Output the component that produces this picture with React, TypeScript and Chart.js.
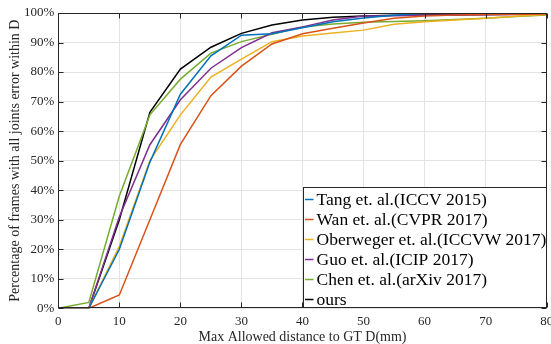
import React, { useEffect, useRef } from 'react';
import { Chart, registerables } from 'chart.js';

Chart.register(...registerables);

const distances = [0, 5, 10, 15, 20, 25, 30, 35, 40, 45, 50, 55, 60, 65, 70, 75, 80];
const tang = [0, 0, 20, 49.5, 72.5, 85.5, 92.5, 93, 95, 97, 98.3, 99.2, 100, 100, 100, 100, 100];
const wan = [0, 0, 4.5, 30, 55.5, 72, 82, 89.5, 93, 94.8, 96.6, 98.2, 99, 99.3, 99.5, 99.6, 99.7];
const oberweger = [0, 0, 21, 50, 65.5, 78.3, 84.4, 90.3, 92.2, 93.2, 94.2, 96.2, 97, 97.6, 98.2, 98.9, 99.5];
const guo = [0, 0, 31, 55.4, 70.6, 81.3, 88.3, 93.3, 95.3, 97.6, 99, 99.1, 99.2, 99.3, 99.4, 99.5, 99.6];
const chen = [0, 2, 38, 65.5, 77.6, 86.4, 90.3, 92.8, 95.3, 96.3, 96.9, 97.1, 97.4, 97.8, 98.2, 98.8, 99.3];
const ours = [0, 0, 30, 66.4, 81, 88.4, 93.1, 95.9, 97.6, 98.6, 99, 99.2, 99.3, 99.4, 99.5, 99.6, 99.7];

const seriesNames = [
  'Tang et. al.(ICCV 2015)',
  'Wan et. al.(CVPR 2017)',
  'Oberweger et. al.(ICCVW 2017)',
  'Guo et. al.(ICIP 2017)',
  'Chen et. al.(arXiv 2017)',
  'ours',
];
const seriesData = [tang, wan, oberweger, guo, chen, ours];
const seriesColors = ['#0072BD', '#D95319', '#EDB120', '#7E2F8E', '#77AC30', '#000000'];

const xTitle = 'Max Allowed distance to GT D(mm)';
const yTitle = 'Percentage of frames with all joints error within D';

const SERIF = '"Liberation Serif", "Times New Roman", serif';
const AXIS_COLOR = '#262626';
const GRID_COLOR = '#e3e3e3';

const framePlugin = {
  id: 'frame',
  afterDatasetsDraw(chart: any) {
    const { ctx, chartArea, scales } = chart;
    const l = Math.round(chartArea.left) + 0.5;
    const r = Math.round(chartArea.right) - 0.5;
    const t = Math.round(chartArea.top) + 0.5;
    const b = Math.round(chartArea.bottom) - 0.5;
    ctx.save();
    ctx.strokeStyle = AXIS_COLOR;
    ctx.lineWidth = 1;
    ctx.strokeRect(l, t, r - l, b - t);
    const tl = 5;
    ctx.beginPath();
    scales.x.ticks.forEach((tk: any) => {
      const px = Math.round(scales.x.getPixelForValue(tk.value)) + 0.5;
      ctx.moveTo(px, b);
      ctx.lineTo(px, b - tl);
      ctx.moveTo(px, t);
      ctx.lineTo(px, t + tl);
    });
    scales.y.ticks.forEach((tk: any) => {
      const py = Math.round(scales.y.getPixelForValue(tk.value)) + 0.5;
      ctx.moveTo(l, py);
      ctx.lineTo(l + tl, py);
      ctx.moveTo(r, py);
      ctx.lineTo(r - tl, py);
    });
    ctx.stroke();
    ctx.restore();
  },
};

const legendPlugin = {
  id: 'boxLegend',
  afterDraw(chart: any) {
    const { ctx, chartArea } = chart;
    const w = 243;
    const rowH = 20;
    const h = 120;
    const right = Math.round(chartArea.right) - 0.5;
    const bottom = Math.round(chartArea.bottom) - 0.5;
    const left = right - w;
    const top = bottom - h;
    ctx.save();
    ctx.fillStyle = '#ffffff';
    ctx.fillRect(left, top, w, h);
    ctx.strokeStyle = AXIS_COLOR;
    ctx.lineWidth = 1;
    ctx.strokeRect(left, top, w, h);
    ctx.font = '17.5px ' + SERIF;
    ctx.textBaseline = 'middle';
    ctx.textAlign = 'left';
    chart.data.datasets.forEach((ds: any, i: number) => {
      const cy = top + 12 + i * rowH;
      ctx.strokeStyle = ds.borderColor;
      ctx.lineWidth = 1.5;
      ctx.beginPath();
      ctx.moveTo(left + 1.5, cy);
      ctx.lineTo(left + 10, cy);
      ctx.stroke();
      ctx.fillStyle = '#000000';
      ctx.fillText(ds.label, left + 13, cy + 1);
    });
    ctx.restore();
  },
};

export default function App() {
  const ref = useRef<HTMLCanvasElement>(null);
  useEffect(() => {
    if (!ref.current) return;
    const tickFont = { family: SERIF, size: 13 };
    const titleFont = { family: SERIF, size: 14, lineHeight: 1 };
    const chart = new Chart(ref.current, {
      type: 'line',
      data: {
        labels: distances,
        datasets: seriesData.map((d, i) => ({
          label: seriesNames[i],
          data: d.map((v, j) => ({ x: distances[j], y: v })),
          borderColor: seriesColors[i],
          backgroundColor: seriesColors[i],
          borderWidth: 1.5,
          pointRadius: 0,
          tension: 0,
          fill: false,
        })),
      },
      options: {
        responsive: false,
        devicePixelRatio: 1,
        animation: false,
        layout: { padding: { top: 13, right: 4.3, left: 0, bottom: 0 } },
        plugins: { legend: { display: false }, tooltip: { enabled: false } },
        scales: {
          x: {
            type: 'linear',
            min: 0,
            max: 80,
            afterFit: (s: any) => {
              s.height = 35.7;
              s.paddingLeft = 0;
              s.paddingRight = 0;
            },
            ticks: { stepSize: 10, padding: 5, font: tickFont, color: AXIS_COLOR, maxRotation: 0 },
            grid: { color: GRID_COLOR, drawTicks: false },
            border: { display: false },
            title: { display: true, text: xTitle, font: titleFont, color: AXIS_COLOR, padding: { top: 0, bottom: 0 } },
          },
          y: {
            type: 'linear',
            min: 0,
            max: 100,
            afterFit: (s: any) => {
              s.width = 58.3;
              s.paddingTop = 0;
              s.paddingBottom = 0;
            },
            ticks: { stepSize: 10, padding: 4, font: tickFont, color: AXIS_COLOR, callback: (v: any) => v + '%' },
            grid: { color: GRID_COLOR, drawTicks: false },
            border: { display: false },
            title: { display: true, text: yTitle, font: titleFont, color: AXIS_COLOR, padding: { top: 8, bottom: 0 } },
          },
        },
      },
      plugins: [framePlugin, legendPlugin],
    });
    return () => chart.destroy();
  }, []);
  return (
    <div style={{ position: 'absolute', left: 0, top: 0, width: 551, height: 344 }}>
      <canvas ref={ref} width={551} height={344} style={{ display: 'block', width: 551, height: 344 }} />
    </div>
  );
}
